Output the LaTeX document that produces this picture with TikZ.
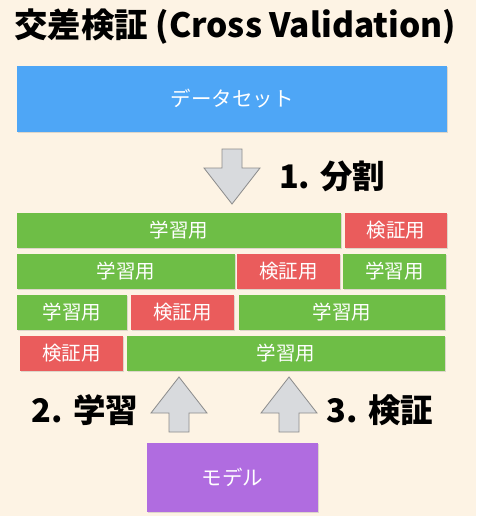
\documentclass[tikz,border=0pt]{standalone}
\usepackage{fontspec}
\setmainfont{Noto Sans CJK JP}
\definecolor{cvback}{RGB}{253,243,228}
\definecolor{cvblue}{RGB}{78,166,246}
\definecolor{cvgreen}{RGB}{110,190,70}
\definecolor{cvred}{RGB}{234,92,92}
\definecolor{cvpurple}{RGB}{176,108,224}
\definecolor{cvgray}{RGB}{216,218,221}
\usetikzlibrary{positioning,shadows}

\begin{document}
\begin{tikzpicture}[
      x=1pt,
      y=-1pt,
      cell/.style={
        minimum height=35pt, inner sep=0pt, text=white,
        font=\fontsize{19.5}{19.5}\selectfont,
        drop shadow={opacity=0.25, shadow xshift=1pt, shadow yshift=-1pt}
      },
      train/.style={cell, fill=cvgreen},
      valid/.style={cell, fill=cvred},
      bigbox/.style={cell, font=\fontsize{20.5}{20.5}\selectfont},
      steplabel/.style={font=\fontsize{32.5}{32.5}\selectfont\bfseries, inner sep=0pt},
      blkarrow/.pic={
        \draw[fill=cvgray, draw=black!45, line width=0.8pt, line join=miter]
          (0,0) -- (28,36) -- (10,36) -- (10,55) -- (-10,55) -- (-10,36)
          -- (-28,36) -- cycle;
      }
    ]
    \fill[cvback] (0,0) rectangle (476,516);
    \useasboundingbox (0,0) rectangle (476,516);

    \node[font=\fontsize{33.5}{33.5}\selectfont\bfseries, anchor=west, inner sep=0pt]
      (title) at (14,27) {交差検証 (Cross Validation)};

    \node[bigbox, fill=cvblue, minimum width=430pt, minimum height=66pt]
      (data) at (232,99) {データセット};

    % split
    \pic[rotate=180] at (232,204) {blkarrow};
    \node[steplabel, anchor=west] (split) at (279,176) {1. 分割};

    % folds
    \node[train, minimum width=324pt] (f1a) at (179,230) {学習用};
    \node[valid, minimum width=102pt] (f1b) at (396,230) {検証用};

    \node[train, minimum width=218pt] (f2a) at (126,271.5) {学習用};
    \node[valid, minimum width=103pt] (f2b) at (288.5,271.5) {検証用};
    \node[train, minimum width=103pt] (f2c) at (394.5,271.5) {学習用};

    \node[train, minimum width=110pt] (f3a) at (72,312) {学習用};
    \node[valid, minimum width=103pt] (f3b) at (182.5,312) {検証用};
    \node[train, minimum width=206pt] (f3c) at (342,312) {学習用};

    \node[valid, minimum width=103pt] (f4a) at (71.5,353) {検証用};
    \node[train, minimum width=318pt] (f4b) at (286,353) {学習用};

    % train / validate
    \pic at (179,377) {blkarrow};
    \pic at (289,377) {blkarrow};
    \node[steplabel] (learn) at (85,410) {2. 学習};
    \node[steplabel] (check) at (380,410) {3. 検証};

    \node[bigbox, fill=cvpurple, minimum width=171pt, minimum height=69pt]
      (model) at (232.5,477.5) {モデル};
  \end{tikzpicture}
\end{document}
